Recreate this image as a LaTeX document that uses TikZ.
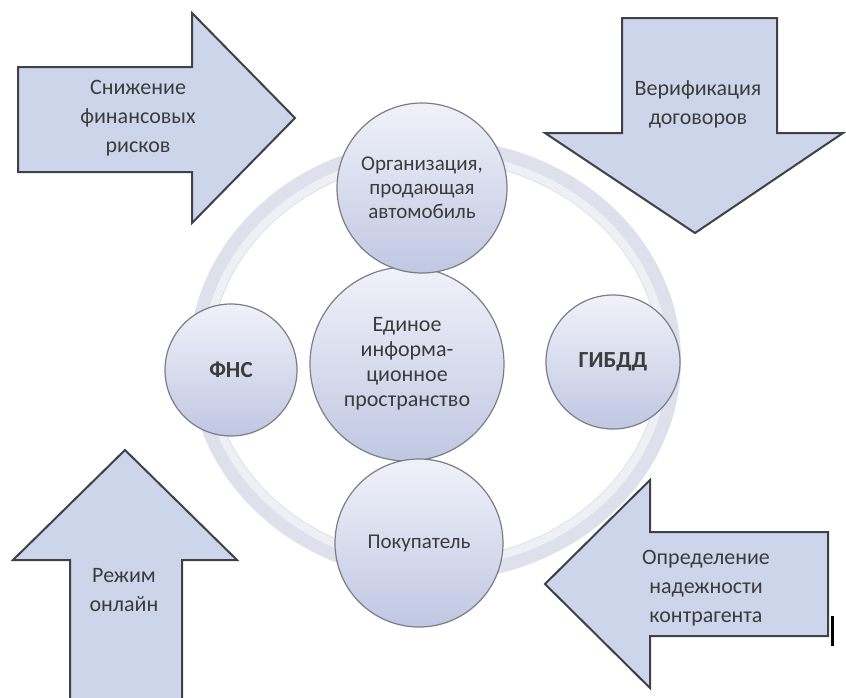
\documentclass[tikz,border=0pt]{standalone}
\usepackage{fontspec}
\setmainfont{Carlito}
\definecolor{arrowfill}{RGB}{205,213,234}
\definecolor{arrowline}{RGB}{64,64,72}
\definecolor{ringc}{RGB}{222,225,235}
\definecolor{ringin}{RGB}{238,240,246}
\definecolor{circtop}{RGB}{240,242,249}
\definecolor{circbot}{RGB}{192,199,226}
\definecolor{circline}{RGB}{125,125,138}
\definecolor{txt}{RGB}{60,60,60}
\begin{document}
\begin{tikzpicture}[x=1pt,y=-1pt,
  arrowshape/.style={fill=arrowfill,draw=arrowline,line width=2pt,line join=miter},
  bigtext/.style={text=txt,align=center,font=\fontsize{22}{29}\selectfont},
  circtext/.style={text=txt,align=center,font=\fontsize{21}{24}\selectfont},
  boldtext/.style={text=txt,align=center,font=\fontsize{23}{26}\selectfont\bfseries},
  ball/.style={circle,inner sep=0pt,top color=circtop,bottom color=circbot,draw=circline,line width=1.2pt}]
\useasboundingbox (0,0) rectangle (846,697);
\clip (0,0) rectangle (846,697);
\fill[white] (0,0) rectangle (846,697);
% ring
\coordinate (rc) at (435,360);
\draw[ringc,line width=22pt] (rc) ellipse[x radius=235pt,y radius=210pt];
\draw[ringin,line width=8pt] (rc) ellipse[x radius=229pt,y radius=204pt];
% circles
\node[ball,minimum size=194pt,circtext,font=\fontsize{22}{25}\selectfont] (center) at (407,364) {Единое\\информа-\\ционное\\пространство};
\node[ball,minimum size=170pt,circtext] (org) at (422,188) {Организация,\\продающая\\автомобиль};
\node[ball,minimum size=168pt,circtext] (buyer) at (419,543) {Покупатель};
\node[ball,minimum size=132pt,boldtext] (fns) at (231,370) {ФНС};
\node[ball,minimum size=134pt,boldtext] (gibdd) at (613,362) {ГИБДД};
% arrows
\draw[arrowshape] (18,67) -- (192,67) -- (192,13) -- (295,118) -- (192,223) -- (192,172) -- (18,172) -- cycle;
\node[bigtext] (risk) at (138,118) {Снижение\\финансовых\\рисков};
\draw[arrowshape] (622,18) -- (777,18) -- (777,133) -- (843,133) -- (695,233) -- (545,133) -- (622,133) -- cycle;
\node[bigtext] (verif) at (698,104) {Верификация\\договоров};
\draw[arrowshape] (70,705) -- (70,560) -- (13,560) -- (125,450) -- (237,560) -- (182,560) -- (182,705);
\node[bigtext] (online) at (124,590) {Режим\\онлайн};
\draw[arrowshape] (828,532) -- (650,532) -- (650,480) -- (545,584) -- (650,688) -- (650,636) -- (828,636) -- cycle;
\node[bigtext] (reliab) at (706,588) {Определение\\надежности\\контрагента};
\draw[black,line width=3pt] (832,616) -- (832,646);
\end{tikzpicture}
\end{document}
